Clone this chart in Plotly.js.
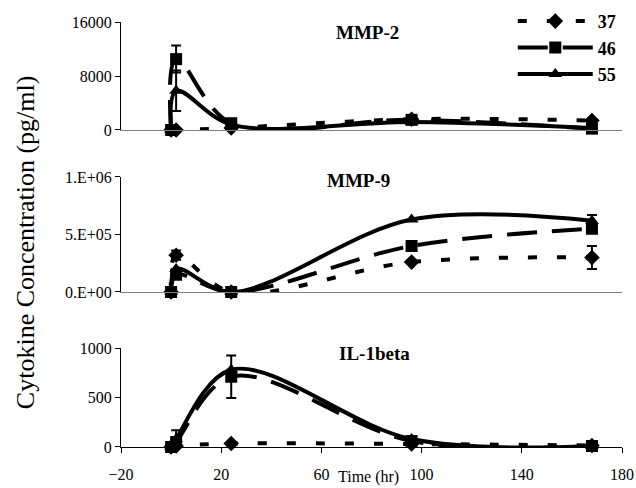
<!DOCTYPE html>
<html><head><meta charset="utf-8">
<script src="https://cdn.plot.ly/plotly-3.0.1.min.js"></script>
<style>body{margin:0;background:#fff}</style>
</head><body><div id="chart" style="width:636px;height:488px"></div>
<script>
const timePoints = [0, 2, 24, 96, 168];
const seriesNames = ['37', '46', '55'];

const mmp2_37 = [0, 0, 300, 1600, 1400];
const mmp2_46 = [0, 10500, 1000, 1500, 200];
const mmp2_55 = [0, 5800, 800, 1200, 300];
const mmp2_err37 = [0, 0, 0, 0, 0];
const mmp2_err46 = [0, 2000, 0, 0, 0];
const mmp2_err55 = [0, 3000, 0, 0, 0];
const mmp2_ticks = [0, 8000, 16000];
const mmp2_ticktext = ['0', '8000', '16000'];

const mmp9_37 = [0, 320000, 0, 260000, 300000];
const mmp9_46 = [0, 150000, 0, 400000, 550000];
const mmp9_55 = [0, 200000, 0, 630000, 620000];
const mmp9_err37 = [0, 40000, 0, 0, 100000];
const mmp9_err46 = [0, 0, 0, 0, 0];
const mmp9_err55 = [0, 0, 0, 0, 50000];
const mmp9_ticks = [0, 500000, 1000000];
const mmp9_ticktext = ['0.E+00', '5.E+05', '1.E+06'];

const il1b_37 = [0, 10, 35, 30, 15];
const il1b_46 = [0, 50, 710, 60, 10];
const il1b_55 = [0, 80, 780, 80, 10];
const il1b_err37 = [0, 0, 0, 0, 0];
const il1b_err46 = [0, 0, 215, 0, 0];
const il1b_err55 = [0, 90, 0, 0, 0];
const il1b_ticks = [0, 500, 1000];

const timeTicks = [-20, 20, 60, 100, 140, 180];

const FONT = 'Liberation Serif, Times New Roman, serif';
const symbols = ['diamond', 'square', 'triangle-up'];
const dashes = ['9px,20px', '30px,15px', 'solid'];

function makeTrace(name, idx, y, err, xa, ya, legend) {
  return {
    x: timePoints, y: y, name: name, xaxis: xa, yaxis: ya,
    type: 'scatter', mode: 'lines+markers', showlegend: legend,
    cliponaxis: false,
    line: {color: 'black', width: 4, dash: dashes[idx], shape: 'spline', smoothing: 1},
    marker: {symbol: symbols[idx], size: 12, color: 'black'},
    error_y: {type: 'data', array: err, visible: true, color: 'black', thickness: 2, width: 5}
  };
}

const panels = [
  {vals: [mmp2_37, mmp2_46, mmp2_55], errs: [mmp2_err37, mmp2_err46, mmp2_err55], xa: 'x3', ya: 'y3', legend: true},
  {vals: [mmp9_37, mmp9_46, mmp9_55], errs: [mmp9_err37, mmp9_err46, mmp9_err55], xa: 'x2', ya: 'y2', legend: false},
  {vals: [il1b_37, il1b_46, il1b_55], errs: [il1b_err37, il1b_err46, il1b_err55], xa: 'x', ya: 'y', legend: false}
];
const data = [];
panels.forEach(p => {
  seriesNames.forEach((n, i) => data.push(makeTrace(n, i, p.vals[i], p.errs[i], p.xa, p.ya, p.legend)));
});

const xBase = {range: [-20, 180], showgrid: false, zeroline: false, showline: true, linewidth: 1, fixedrange: true};
const yBase = {showgrid: false, zeroline: false, showline: true, linecolor: 'black', linewidth: 1,
  ticks: 'outside', ticklen: 5, tickcolor: 'black', tickfont: {family: FONT, size: 16, color: 'black'}};

const titleFont = {family: FONT, size: 19, color: 'black', weight: 'bold'};

const layout = {
  width: 636, height: 488,
  margin: {l: 121, r: 14, t: 22, b: 41, autoexpand: false},
  paper_bgcolor: 'white', plot_bgcolor: 'white',
  showlegend: true,
  legend: {x: 0.782, y: 1.045, xanchor: 'left', yanchor: 'top', itemwidth: 75,
    font: {family: FONT, size: 18, color: 'black', weight: 'bold'}, bgcolor: 'rgba(0,0,0,0)'},
  xaxis: Object.assign({}, xBase, {anchor: 'y', linecolor: 'black', tickvals: timeTicks,
    ticks: 'outside', ticklen: 5, tickcolor: 'black', ticklabelstandoff: 8,
    tickfont: {family: FONT, size: 16, color: 'black'}}),
  xaxis2: Object.assign({}, xBase, {anchor: 'y2', linecolor: '#808080', showticklabels: false, ticks: ''}),
  xaxis3: Object.assign({}, xBase, {anchor: 'y3', linecolor: '#808080', showticklabels: false, ticks: ''}),
  yaxis: Object.assign({}, yBase, {domain: [0, 0.2329], range: [0, 1000], tickvals: il1b_ticks}),
  yaxis2: Object.assign({}, yBase, {domain: [0.3647, 0.6353], range: [0, 1000000], tickvals: mmp9_ticks,
    ticktext: mmp9_ticktext}),
  yaxis3: Object.assign({}, yBase, {domain: [0.7459, 1], range: [0, 16000], tickvals: mmp2_ticks,
    ticktext: mmp2_ticktext}),
  annotations: [
    {text: 'MMP-2', xref: 'paper', yref: 'paper', x: 0.493, y: 0.976, xanchor: 'center', yanchor: 'middle',
      showarrow: false, font: titleFont},
    {text: 'MMP-9', xref: 'paper', yref: 'paper', x: 0.475, y: 0.628, xanchor: 'center', yanchor: 'middle',
      showarrow: false, font: titleFont},
    {text: 'IL-1beta', xref: 'paper', yref: 'paper', x: 0.505, y: 0.219, xanchor: 'center', yanchor: 'middle',
      showarrow: false, font: titleFont},
    {text: 'Cytokine Concentration (pg/ml)', xref: 'paper', yref: 'paper', x: -0.1916, y: 0.482,
      xanchor: 'center', yanchor: 'middle', textangle: -90, showarrow: false,
      font: {family: FONT, size: 26, color: 'black'}},
    {text: 'Time (hr)', xref: 'paper', yref: 'paper', x: 0.495, y: -0.0955, xanchor: 'center', yanchor: 'bottom',
      showarrow: false, font: {family: FONT, size: 16, color: 'black'}}
  ]
};

Plotly.newPlot('chart', data, layout, {staticPlot: true, displayModeBar: false});
</script>
</body></html>
